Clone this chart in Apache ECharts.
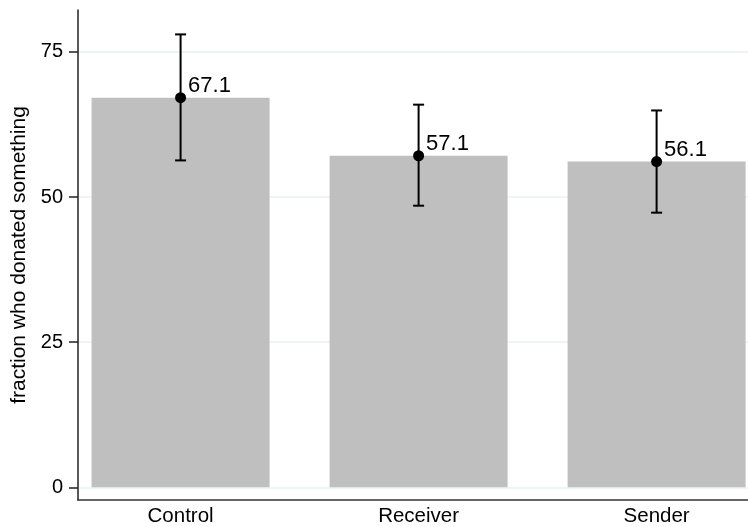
<!DOCTYPE html>
<html>
<head>
<meta charset="utf-8">
<script src="https://cdn.jsdelivr.net/npm/echarts@6/dist/echarts.min.js"></script>
<style>
html,body{margin:0;padding:0;background:#fff;}
#c{width:748px;height:527px;}
</style>
</head>
<body>
<div id="c"></div>
<script>
const categories = ['Control', 'Receiver', 'Sender'];
const fractionDonated = [67.1, 57.1, 56.1];
const ciLow = [56.3, 48.5, 47.3];
const ciHigh = [78.0, 65.9, 64.9];
const yTicks = [0, 25, 50, 75];

const FONT = 'Liberation Sans, Arial, sans-serif';
const positions = categories.map((c, i) => i + 1);

const chart = echarts.init(document.getElementById('c'), null, {renderer: 'canvas'});
chart.setOption({
  backgroundColor: '#ffffff',
  animation: false,
  grid: {left: 78, right: 0, top: 10, bottom: 25, containLabel: false},
  xAxis: {
    type: 'value',
    min: 0.569,
    max: 3.384,
    axisLine: {show: true, onZero: false, lineStyle: {color: '#333', width: 1.5}},
    axisTick: {show: false},
    splitLine: {show: false},
    axisLabel: {
      customValues: positions,
      formatter: v => categories[Math.round(v) - 1] || '',
      color: '#000', fontSize: 20.5, fontFamily: FONT, margin: 6
    }
  },
  yAxis: {
    type: 'value',
    min: -2.18,
    max: 82.2,
    name: 'fraction who donated something',
    nameLocation: 'middle',
    nameRotate: 90,
    nameGap: 42,
    nameTextStyle: {color: '#000', fontSize: 21, fontFamily: FONT},
    axisLine: {show: true, onZero: false, lineStyle: {color: '#222', width: 1.5}},
    axisTick: {show: true, customValues: yTicks, length: 9, lineStyle: {color: '#222', width: 1.5}},
    axisLabel: {customValues: yTicks, color: '#000', fontSize: 20, fontFamily: FONT, margin: 15},
    splitLine: {show: true, lineStyle: {color: '#eaf2f3', width: 1.5}}
  },
  series: [
    {
      type: 'bar',
      barWidth: 178,
      itemStyle: {color: '#bfbfbf'},
      data: positions.map((p, i) => [p, fractionDonated[i]]),
      z: 2
    },
    {
      type: 'custom',
      z: 3,
      data: positions.map((p, i) => [p, ciLow[i], ciHigh[i]]),
      renderItem: function (params, api) {
        const x = api.value(0);
        const lo = api.coord([x, api.value(1)]);
        const hi = api.coord([x, api.value(2)]);
        const hw = 5.5;
        const style = {stroke: '#000', lineWidth: 2};
        return {
          type: 'group',
          children: [
            {type: 'line', shape: {x1: lo[0], y1: lo[1], x2: hi[0], y2: hi[1]}, style},
            {type: 'line', shape: {x1: lo[0] - hw, y1: lo[1], x2: lo[0] + hw, y2: lo[1]}, style},
            {type: 'line', shape: {x1: hi[0] - hw, y1: hi[1], x2: hi[0] + hw, y2: hi[1]}, style}
          ]
        };
      }
    },
    {
      type: 'scatter',
      z: 4,
      symbol: 'circle',
      symbolSize: 11,
      itemStyle: {color: '#000', opacity: 1},
      data: positions.map((p, i) => [p, fractionDonated[i]]),
      label: {
        show: true,
        position: 'right',
        distance: 2,
        offset: [0, -12],
        formatter: p => p.value[1].toFixed(1),
        color: '#000',
        opacity: 1,
        fontSize: 22,
        fontFamily: FONT
      }
    }
  ]
});
</script>
</body>
</html>
